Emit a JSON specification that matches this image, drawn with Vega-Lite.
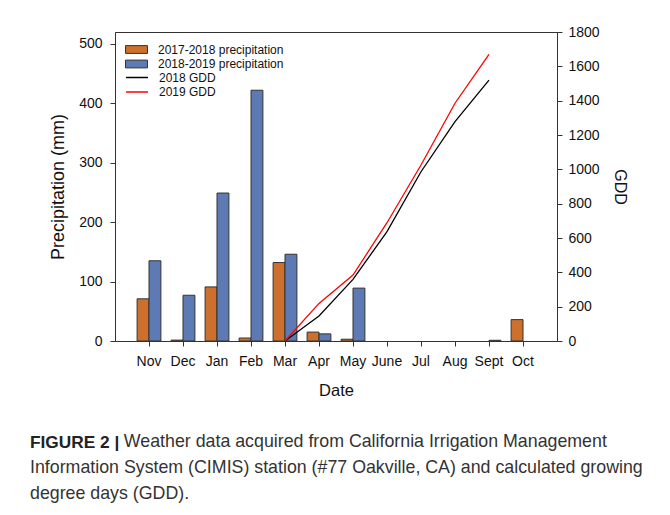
{
  "$schema": "https://vega.github.io/schema/vega-lite/v6.json",
  "width": 442,
  "height": 309,
  "autosize": {"type": "none"},
  "padding": {"left": 115, "top": 32, "right": 113, "bottom": 174},
  "background": "white",
  "title": {
    "text": "FIGURE 2 |",
    "subtitle": [
      "\u200b\u00a0\u00a0\u00a0\u00a0\u00a0\u00a0\u00a0\u00a0\u00a0\u00a0\u00a0\u00a0\u00a0\u00a0\u00a0\u00a0\u00a0\u00a0\u00a0Weather data acquired from California Irrigation Management",
      "Information System (CIMIS) station (#77 Oakville, CA) and calculated growing",
      "degree days (GDD)."
    ],
    "orient": "bottom",
    "anchor": "start",
    "frame": "group",
    "dx": -85,
    "offset": 35,
    "font": "Liberation Sans",
    "fontSize": 17.3,
    "fontWeight": "bold",
    "color": "#222",
    "subtitleFont": "Liberation Sans",
    "subtitleFontSize": 17.8,
    "subtitleColor": "#333",
    "subtitleLineHeight": 26,
    "subtitlePadding": -17.5
  },
  "datasets": {
    "precip": [
      {"month": "Nov", "series": "2017-2018 precipitation", "value": 71},
      {"month": "Nov", "series": "2018-2019 precipitation", "value": 135},
      {"month": "Dec", "series": "2017-2018 precipitation", "value": 1.5},
      {"month": "Dec", "series": "2018-2019 precipitation", "value": 77},
      {"month": "Jan", "series": "2017-2018 precipitation", "value": 91},
      {"month": "Jan", "series": "2018-2019 precipitation", "value": 249},
      {"month": "Feb", "series": "2017-2018 precipitation", "value": 5},
      {"month": "Feb", "series": "2018-2019 precipitation", "value": 422},
      {"month": "Mar", "series": "2017-2018 precipitation", "value": 132},
      {"month": "Mar", "series": "2018-2019 precipitation", "value": 146},
      {"month": "Apr", "series": "2017-2018 precipitation", "value": 15},
      {"month": "Apr", "series": "2018-2019 precipitation", "value": 12},
      {"month": "May", "series": "2017-2018 precipitation", "value": 3},
      {"month": "May", "series": "2018-2019 precipitation", "value": 89},
      {"month": "Sept", "series": "2018-2019 precipitation", "value": 1.2},
      {"month": "Oct", "series": "2017-2018 precipitation", "value": 36}
    ],
    "gdd": [
      {"month": "Mar", "year": "2018 GDD", "gdd": 0},
      {"month": "Apr", "year": "2018 GDD", "gdd": 146},
      {"month": "May", "year": "2018 GDD", "gdd": 359},
      {"month": "June", "year": "2018 GDD", "gdd": 637},
      {"month": "Jul", "year": "2018 GDD", "gdd": 986},
      {"month": "Aug", "year": "2018 GDD", "gdd": 1278},
      {"month": "Sept", "year": "2018 GDD", "gdd": 1520},
      {"month": "Mar", "year": "2019 GDD", "gdd": 0},
      {"month": "Apr", "year": "2019 GDD", "gdd": 219},
      {"month": "May", "year": "2019 GDD", "gdd": 384},
      {"month": "June", "year": "2019 GDD", "gdd": 689},
      {"month": "Jul", "year": "2019 GDD", "gdd": 1025},
      {"month": "Aug", "year": "2019 GDD", "gdd": 1385},
      {"month": "Sept", "year": "2019 GDD", "gdd": 1670}
    ]
  },
  "layer": [
    {
      "data": {"name": "precip"},
      "mark": {"type": "bar", "stroke": "#333", "strokeWidth": 1},
      "encoding": {
        "x": {
          "field": "month",
          "type": "nominal",
          "scale": {
            "type": "band",
            "domain": ["Nov", "Dec", "Jan", "Feb", "Mar", "Apr", "May", "June", "Jul", "Aug", "Sept", "Oct"],
            "paddingInner": 0.3,
            "paddingOuter": 0.65
          },
          "axis": {
            "title": "Date",
            "labelAngle": 0,
            "labelFont": "Liberation Sans",
            "labelFontSize": 14,
            "labelColor": "#111",
            "labelPadding": 8,
            "tickSize": 5,
            "tickColor": "#333",
            "domainColor": "#333",
            "titleFont": "Liberation Sans",
            "titleFontSize": 16.5,
            "titleFontWeight": "normal",
            "titleColor": "#111",
            "titlePadding": 14
          }
        },
        "xOffset": {
          "field": "series",
          "type": "nominal",
          "scale": {"domain": ["2017-2018 precipitation", "2018-2019 precipitation"], "paddingInner": 0, "paddingOuter": 0}
        },
        "y": {
          "field": "value",
          "type": "quantitative",
          "scale": {"domain": [0, 520], "nice": false},
          "axis": {
            "title": "Precipitation (mm)",
            "values": [0, 100, 200, 300, 400, 500],
            "grid": false,
            "labelFont": "Liberation Sans",
            "labelFontSize": 14,
            "labelColor": "#111",
            "labelPadding": 8,
            "tickSize": 5,
            "tickColor": "#333",
            "domainColor": "#333",
            "titleFont": "Liberation Sans",
            "titleFontSize": 18,
            "titleFontWeight": "normal",
            "titleColor": "#111",
            "titlePadding": 11
          }
        },
        "fill": {
          "field": "series",
          "type": "nominal",
          "scale": {"domain": ["2017-2018 precipitation", "2018-2019 precipitation"], "range": ["#CE702D", "#5E7AB5"]},
          "legend": {
            "title": null,
            "orient": "none",
            "legendX": 15,
            "legendY": 11,
            "padding": 0,
            "symbolType": "M-1.83,-0.65H1.83V0.65H-1.83Z",
            "symbolSize": 144,
            "symbolStrokeColor": "#333",
            "symbolStrokeWidth": 1,
            "symbolOpacity": 1,
            "labelFont": "Liberation Sans",
            "labelFontSize": 12,
            "labelColor": "#111",
            "labelOffset": 15,
            "rowPadding": 1.5
          }
        }
      }
    },
    {
      "data": {"name": "gdd"},
      "mark": {"type": "line", "strokeWidth": 1.3},
      "encoding": {
        "x": {"field": "month", "type": "nominal"},
        "y": {
          "field": "gdd",
          "type": "quantitative",
          "scale": {"domain": [0, 1800], "nice": false},
          "axis": {
            "title": "GDD",
            "orient": "right",
            "values": [0, 200, 400, 600, 800, 1000, 1200, 1400, 1600, 1800],
            "format": "d",
            "grid": false,
            "labelFont": "Liberation Sans",
            "labelFontSize": 14,
            "labelColor": "#111",
            "labelPadding": 6,
            "tickSize": 5,
            "tickColor": "#333",
            "domainColor": "#333",
            "titleFont": "Liberation Sans",
            "titleFontSize": 16,
            "titleFontWeight": "normal",
            "titleColor": "#111",
            "titleAngle": 90,
            "titlePadding": 12
          }
        },
        "stroke": {
          "field": "year",
          "type": "nominal",
          "scale": {"domain": ["2018 GDD", "2019 GDD"], "range": ["#000000", "#FF0000"]},
          "legend": {
            "title": null,
            "orient": "none",
            "legendX": 15,
            "legendY": 38.5,
            "padding": 0,
            "symbolType": "M-1.83,0H1.83",
            "symbolSize": 144,
            "symbolStrokeWidth": 1.5,
            "labelFont": "Liberation Sans",
            "labelFontSize": 12,
            "labelColor": "#111",
            "labelOffset": 15,
            "rowPadding": 1.5
          }
        }
      }
    }
  ],
  "resolve": {"scale": {"y": "independent"}},
  "config": {
    "view": {"stroke": "#333", "strokeWidth": 1},
    "axis": {"domainWidth": 1, "tickWidth": 1}
  }
}
